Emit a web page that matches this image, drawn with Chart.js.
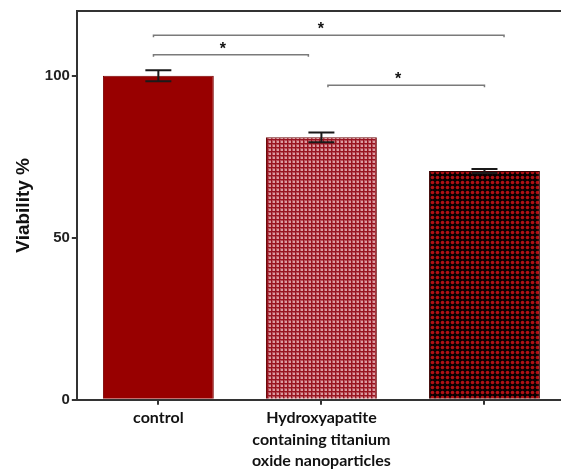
<!DOCTYPE html>
<html>
<head>
<meta charset="utf-8">
<script src="https://cdn.jsdelivr.net/npm/chart.js@4.4.0/dist/chart.umd.min.js"></script>
<style>
  html, body { margin: 0; padding: 0; background: #fff; overflow: hidden; }
  #wrap { width: 566px; height: 474px; }
</style>
</head>
<body>
<div id="wrap"><canvas id="chart" width="566" height="474"></canvas></div>
<script>
// data
const categories = ['control', ['Hydroxyapatite', 'containing titanium', 'oxide nanoparticles'], ''];
const viability = [100, 81, 70.6];
const errors = [1.7, 1.5, 0.6];
const yTicks = [0, 50, 100];

// significance brackets (category index units, value units)
const bracketFrom = [-0.03, -0.03, 1.04];
const bracketTo = [2.12, 0.92, 2.0];
const bracketY = [112.5, 106.5, 97.1];
const bracketLabel = ['*', '*', '*'];

// fill patterns for bars 2 and 3
function checkerPattern() {
  const c = document.createElement('canvas');
  c.width = 4; c.height = 4;
  const g = c.getContext('2d');
  g.fillStyle = '#981420';
  g.fillRect(0, 0, 4, 4);
  g.fillStyle = '#b8505a';
  g.fillRect(0, 0, 3, 3);
  g.fillStyle = '#dc9ca2';
  g.fillRect(1, 1, 2, 2);
  return g.createPattern(c, 'repeat');
}
function dotPattern() {
  const c = document.createElement('canvas');
  c.width = 5; c.height = 5;
  const g = c.getContext('2d');
  g.fillStyle = '#0a0000';
  g.fillRect(0, 0, 5, 5);
  g.fillStyle = '#b01014';
  g.beginPath();
  g.arc(2.5, 2.5, 1.8, 0, Math.PI * 2);
  g.fill();
  return g.createPattern(c, 'repeat');
}

const extras = {
  id: 'extras',
  afterDatasetsDraw(chart) {
    const ctx = chart.ctx;
    const x = chart.scales.x, y = chart.scales.y;
    const area = chart.chartArea;
    ctx.save();
    // top frame line
    ctx.strokeStyle = '#333';
    ctx.lineWidth = 2;
    ctx.beginPath();
    ctx.moveTo(area.left, area.top);
    ctx.lineTo(chart.width, area.top);
    ctx.stroke();

    // error bars
    ctx.strokeStyle = '#1a1a1a';
    ctx.lineWidth = 2;
    viability.forEach((v, i) => {
      const cx = x.getPixelForValue(i);
      const hi = y.getPixelForValue(v + errors[i]);
      const lo = y.getPixelForValue(v - errors[i]);
      ctx.beginPath();
      ctx.moveTo(cx, hi); ctx.lineTo(cx, lo);
      ctx.moveTo(cx - 13, hi); ctx.lineTo(cx + 13, hi);
      ctx.moveTo(cx - 13, lo); ctx.lineTo(cx + 13, lo);
      ctx.stroke();
    });

    // brackets
    ctx.strokeStyle = '#7a7a7a';
    ctx.lineWidth = 1.5;
    ctx.fillStyle = '#111';
    ctx.font = 'bold 16px "Liberation Sans", Arial, sans-serif';
    ctx.textAlign = 'center';
    ctx.textBaseline = 'alphabetic';
    bracketY.forEach((bv, i) => {
      const x1 = x.getPixelForValue(bracketFrom[i]);
      const x2 = x.getPixelForValue(bracketTo[i]);
      const py = y.getPixelForValue(bv);
      ctx.beginPath();
      ctx.moveTo(x1, py + 2); ctx.lineTo(x1, py); ctx.lineTo(x2, py); ctx.lineTo(x2, py + 2);
      ctx.stroke();
      ctx.fillText(bracketLabel[i], (x1 + x2) / 2 - 8, py - 1);
    });
    ctx.restore();
  }
};

new Chart(document.getElementById('chart'), {
  type: 'bar',
  data: {
    labels: categories,
    datasets: [{
      data: viability,
      backgroundColor: ['#980000', checkerPattern(), dotPattern()],
      borderColor: ['#7a0000', '#6a0a0a', '#3a0000'],
      borderWidth: 1,
      barPercentage: 0.68,
      categoryPercentage: 1.0
    }]
  },
  options: {
    responsive: false,
    animation: false,
    layout: { padding: { top: 10, left: 12, right: 0, bottom: 0 } },
    plugins: { legend: { display: false }, tooltip: { enabled: false } },
    scales: {
      x: {
        grid: { display: true, drawOnChartArea: false, offset: false, tickLength: 5, color: '#333', lineWidth: 2 },
        border: { display: true, color: '#333', width: 2 },
        ticks: {
          color: '#111',
          font: { family: 'Lato, "Open Sans", sans-serif', weight: 'bold', size: 16, lineHeight: 1.36 },
          maxRotation: 0,
          autoSkip: false,
          padding: 2
        }
      },
      y: {
        min: 0,
        max: 120,
        afterBuildTicks: axis => { axis.ticks = yTicks.map(v => ({ value: v })); },
        grid: { display: true, drawOnChartArea: false, tickLength: 5, color: '#333', lineWidth: 2 },
        border: { display: true, color: '#333', width: 2 },
        ticks: {
          color: '#222',
          font: { family: '"Liberation Sans", Arial, sans-serif', weight: 'bold', size: 15 },
          padding: 2
        },
        title: {
          display: true,
          text: 'Viability %',
          color: '#111',
          font: { family: '"Liberation Sans", Arial, sans-serif', weight: 'bold', size: 19 },
          padding: { top: 0, bottom: 8 }
        }
      }
    }
  },
  plugins: [extras]
});
</script>
</body>
</html>
